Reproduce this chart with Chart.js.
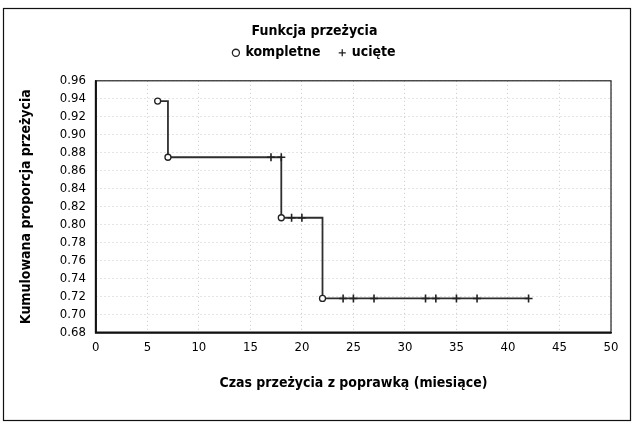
<!DOCTYPE html>
<html>
<head>
<meta charset="utf-8">
<script src="https://cdn.jsdelivr.net/npm/chart.js@4"></script>
<style>
  html, body { margin: 0; padding: 0; background: #fff; }
</style>
</head>
<body>
<canvas id="km" width="635" height="424"></canvas>
<script>
// --- DANE ---
const stepTimes = [6, 7, 18, 22, 42];
const stepSurv = [0.9375, 0.875, 0.8077, 0.718, 0.718];
const compTimes = [6, 7, 18, 22];
const compSurv = [0.9375, 0.875, 0.8077, 0.718];
const censTimes = [17, 18, 19, 20, 24, 25, 27, 32, 33, 35, 37, 42];
const censSurv = [0.875, 0.875, 0.8077, 0.8077, 0.718, 0.718, 0.718, 0.718, 0.718, 0.718, 0.718, 0.718];
const xTicks = [0, 5, 10, 15, 20, 25, 30, 35, 40, 45, 50];
const yTicks = [0.68, 0.70, 0.72, 0.74, 0.76, 0.78, 0.80, 0.82, 0.84, 0.86, 0.88, 0.90, 0.92, 0.94, 0.96];

const FONT = "'Liberation Sans Narrow', 'DejaVu Sans Condensed', 'Roboto Condensed', 'Liberation Sans', sans-serif";
const toXY = (xs, ys) => xs.map((x, i) => ({ x: x, y: ys[i] }));

// tlo, ramka obszaru danych i ramka calego rysunku
const framePlugin = {
    id: 'frame',
    beforeDraw(chart) {
        const ctx = chart.ctx;
        ctx.save();
        ctx.fillStyle = '#fff';
        ctx.fillRect(0, 0, chart.width, chart.height);
        ctx.restore();
    },
    afterDraw(chart) {
        const ctx = chart.ctx;
        const a = chart.chartArea;
        ctx.save();
        ctx.strokeStyle = '#222';
        ctx.lineWidth = 1.2;
        ctx.strokeRect(a.left, a.top, a.right - a.left, a.bottom - a.top);
        // os Y i os X grubsze
        ctx.strokeStyle = '#111';
        ctx.lineWidth = 2;
        ctx.beginPath();
        ctx.moveTo(a.left, a.top);
        ctx.lineTo(a.left, a.bottom);
        ctx.lineTo(a.right, a.bottom);
        ctx.stroke();
        ctx.lineWidth = 1.2;
        ctx.strokeRect(3.5, 8.5, 627, 412);
        ctx.restore();
    }
};

new Chart(document.getElementById('km'), {
    type: 'scatter',
    data: {
        datasets: [
            {
                type: 'line',
                label: '',
                data: toXY(stepTimes, stepSurv),
                stepped: 'before',
                borderColor: '#2e2e2e',
                borderWidth: 1.8,
                pointRadius: 0,
                fill: false,
                order: 3
            },
            {
                label: 'kompletne',
                data: toXY(compTimes, compSurv),
                pointStyle: 'circle',
                pointRadius: 3,
                backgroundColor: '#fff',
                borderColor: '#222',
                borderWidth: 1.3,
                order: 1
            },
            {
                label: 'ucięte',
                data: toXY(censTimes, censSurv),
                pointStyle: 'cross',
                pointRadius: 4,
                backgroundColor: '#222',
                borderColor: '#222',
                borderWidth: 1.6,
                order: 2
            }
        ]
    },
    options: {
        responsive: false,
        animation: false,
        devicePixelRatio: 1,
        layout: { padding: { top: 18, left: 18, right: 24, bottom: 32 } },
        plugins: {
            title: {
                display: true,
                text: 'Funkcja przeżycia',
                color: '#000',
                font: { family: FONT, size: 14, weight: 'bold' },
                padding: { top: 5, bottom: 0 }
            },
            legend: {
                display: true,
                labels: {
                    generateLabels: chart => Chart.defaults.plugins.legend.labels.generateLabels(chart)
                        .filter(item => item.text !== '')
                        .map(item => {
                            if (item.text === 'kompletne') item.text = 'kompletne   ';
                            item.lineWidth = 1.3;
                            return item;
                        }),
                    usePointStyle: true,
                    boxWidth: 5,
                    boxHeight: 5,
                    padding: 6,
                    color: '#000',
                    font: { family: FONT, size: 14, weight: 'bold' }
                }
            },
            tooltip: { enabled: false }
        },
        scales: {
            x: {
                type: 'linear',
                min: 0,
                max: 50,
                afterBuildTicks: s => { s.ticks = xTicks.map(v => ({ value: v })); },
                ticks: {
                    autoSkip: false,
                    maxRotation: 0,
                    color: '#000',
                    font: { family: FONT, size: 13 },
                    padding: 7
                },
                grid: { color: '#c8c8c8', drawTicks: false },
                border: { display: true, color: '#111', width: 1.5, dash: [1, 3] },
                title: {
                    display: true,
                    text: 'Czas przeżycia z poprawką (miesiące)',
                    color: '#000',
                    font: { family: FONT, size: 14, weight: 'bold' },
                    padding: { top: 13, bottom: 0 }
                }
            },
            xTop: {
                type: 'linear',
                axis: 'x',
                position: 'top',
                min: 0,
                max: 50,
                ticks: { display: false },
                grid: { display: false, drawTicks: false },
                border: { display: false },
                afterFit: s => { s.height = 11; }
            },
            y: {
                min: 0.68,
                max: 0.96,
                afterBuildTicks: s => { s.ticks = yTicks.map(v => ({ value: v })); },
                ticks: {
                    autoSkip: false,
                    color: '#000',
                    font: { family: FONT, size: 13 },
                    padding: 10,
                    callback: v => v.toFixed(2)
                },
                grid: { color: '#c8c8c8', drawTicks: false },
                border: { display: true, color: '#111', width: 1.5, dash: [1, 3] },
                title: {
                    display: true,
                    text: 'Kumulowana proporcja przeżycia',
                    color: '#000',
                    font: { family: FONT, size: 14, weight: 'bold' },
                    padding: { top: 0, bottom: 15 }
                }
            }
        }
    },
    plugins: [framePlugin]
});
</script>
</body>
</html>
